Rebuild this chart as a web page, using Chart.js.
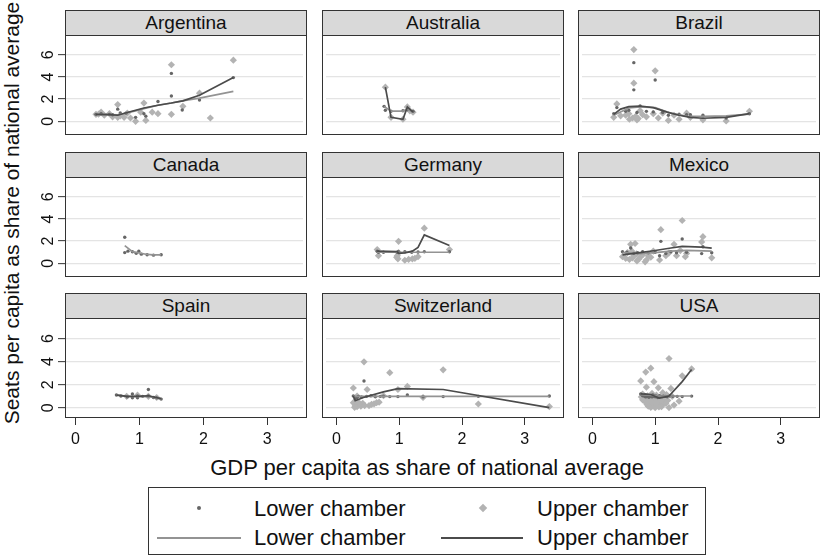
<!DOCTYPE html>
<html><head><meta charset="utf-8">
<script src="https://cdn.jsdelivr.net/npm/chart.js@4"></script>
<style>
body{margin:0;background:#fff;font-family:"Liberation Sans",Arial,sans-serif;}
#wrap{position:relative;width:821px;height:556px;overflow:hidden;background:#fff;}
.hdr{position:absolute;box-sizing:border-box;background:#d9d9d9;border:1px solid #333;text-align:center;font-size:19px;line-height:24px;color:#111;}
.frame{position:absolute;box-sizing:border-box;border:1px solid #333;pointer-events:none;}
canvas{position:absolute;}
.txt{position:absolute;white-space:nowrap;color:#111;}
</style></head><body><div id="wrap"></div>
<script>
// ---------- data ----------
const countries = ['Argentina','Australia','Brazil','Canada','Germany','Mexico','Spain','Switzerland','USA'];
const xTicks = [0,1,2,3];
const yTicks = [0,2,4,6];
const xTitle = 'GDP per capita as share of national average';
const yTitle = 'Seats per capita as share of national average';
const legendLabels = ['Lower chamber','Upper chamber','Lower chamber','Upper chamber'];

const argentinaUpper = [[0.32,0.63],[0.36,0.65],[0.40,0.83],[0.45,0.55],[0.53,0.69],[0.58,0.41],[0.66,1.51],[0.66,0.36],[0.70,0.50],[0.76,0.36],[0.81,0.74],[0.86,0.30],[0.94,0.00],[1.02,0.83],[1.07,1.65],[1.10,0.08],[1.20,0.83],[1.29,0.69],[1.50,5.10],[1.50,0.63],[1.68,1.35],[1.94,2.54],[2.11,0.30],[2.47,5.51]];
const argentinaLower = [[0.32,0.63],[0.40,0.70],[0.53,0.63],[0.58,0.60],[0.66,1.10],[0.70,0.75],[0.79,0.74],[0.94,0.36],[1.07,0.69],[1.10,0.47],[1.29,1.79],[1.50,4.32],[1.50,2.29],[1.67,1.02],[1.94,1.93],[2.47,3.94]];
const argentinaLowerFit = [[0.32,0.63],[0.53,0.60],[0.66,0.58],[0.79,0.75],[0.94,0.95],[1.07,1.15],[1.29,1.45],[1.50,1.65],[1.67,1.85],[1.94,2.10],[2.47,2.70]];
const argentinaUpperFit = [[0.32,0.63],[0.53,0.60],[0.66,0.55],[0.81,0.80],[1.07,1.20],[1.29,1.45],[1.50,1.65],[1.68,1.85],[1.94,2.35],[2.47,3.95]];

const australiaUpper = [[0.78,3.08],[0.87,0.36],[1.06,0.19],[1.13,1.30],[1.17,0.95],[1.22,0.83]];
const australiaLower = [[0.76,1.35],[0.78,1.00],[0.87,0.91],[1.06,0.95],[1.13,1.05],[1.22,0.90]];
const australiaLowerFit = [[0.76,1.35],[0.87,0.92],[1.06,0.92],[1.13,1.10],[1.22,0.83]];
const australiaUpperFit = [[0.78,3.08],[0.87,0.36],[1.06,0.19],[1.13,1.30],[1.22,0.83]];

const brazilUpper = [[0.66,6.47],[0.66,3.44],[1.00,4.55],[0.39,1.57],[0.34,0.36],[0.53,0.55],[0.58,0.69],[0.59,0.19],[0.71,0.14],[0.76,0.96],[0.86,0.41],[0.97,0.69],[1.12,0.74],[1.21,0.08],[1.38,0.19],[1.50,0.74],[1.56,0.36],[1.76,0.14],[2.13,0.03],[2.50,0.91],[0.45,0.50],[0.64,0.30],[0.69,0.45],[0.73,0.25],[0.80,0.60],[1.05,0.30],[1.30,0.55]];
const brazilLower = [[0.66,5.29],[0.66,2.84],[1.00,3.72],[0.39,1.24],[0.76,1.38],[1.21,0.55],[1.76,0.55],[2.13,0.30],[2.50,0.69],[0.34,0.70],[0.53,0.90],[0.58,1.00],[0.71,0.80],[0.86,0.90],[0.97,0.85],[1.12,0.80],[1.38,0.65],[1.50,0.60],[1.56,0.60]];
const brazilLowerFit = [[0.34,0.55],[0.58,1.20],[0.76,1.30],[1.00,1.24],[1.24,0.75],[1.50,0.47],[1.76,0.45],[2.13,0.50],[2.50,0.65]];
const brazilUpperFit = [[0.34,0.63],[0.45,1.10],[0.58,1.32],[0.76,1.38],[0.97,1.24],[1.19,0.83],[1.38,0.55],[1.56,0.36],[1.76,0.28],[2.13,0.36],[2.50,0.69]];

const canadaUpper = [];
const canadaLower = [[0.77,2.35],[0.77,0.97],[0.82,1.10],[0.89,1.05],[0.95,0.90],[0.99,1.10],[1.03,0.83],[1.12,0.77],[1.22,0.74],[1.34,0.77]];
const canadaLowerFit = [[0.77,1.60],[0.89,1.05],[0.99,0.95],[1.12,0.80],[1.22,0.77],[1.34,0.77]];
const canadaUpperFit = [];

const germanyUpper = [[0.65,1.24],[0.67,0.69],[0.99,1.98],[0.97,0.69],[0.99,0.96],[0.98,0.41],[1.09,0.28],[1.21,0.41],[1.30,0.60],[1.40,3.17],[1.80,1.24],[0.96,0.55],[1.15,0.35],[1.25,0.45]];
const germanyLower = [[0.65,1.10],[0.67,1.00],[0.75,1.00],[0.97,1.00],[0.99,1.05],[1.09,1.05],[1.20,1.00],[1.30,1.02],[1.40,1.05],[1.80,1.05]];
const germanyLowerFit = [[0.65,1.00],[0.97,1.00],[1.40,1.00],[1.80,1.00]];
const germanyUpperFit = [[0.65,1.10],[0.97,1.05],[0.99,0.90],[1.09,0.95],[1.21,1.10],[1.30,1.44],[1.40,2.56],[1.80,1.60]];

const mexicoUpper = [[1.43,3.86],[1.09,3.03],[1.76,2.40],[1.74,1.93],[1.30,1.71],[0.61,1.71],[0.68,1.79],[0.48,0.60],[0.56,0.97],[0.63,1.10],[0.66,0.69],[0.71,0.22],[0.76,0.55],[0.84,0.14],[0.89,0.69],[0.97,1.10],[1.07,0.30],[1.17,0.69],[1.34,0.69],[1.48,0.60],[1.50,0.88],[1.90,0.50],[0.53,0.45],[0.59,0.35],[0.64,0.50],[0.70,0.85],[0.74,0.40],[0.80,0.75],[0.86,0.30],[0.93,0.55],[1.22,0.95],[1.40,1.15]];
const mexicoLower = [[1.09,1.98],[1.43,2.20],[0.61,1.38],[0.48,1.05],[1.76,1.50],[1.74,0.88],[1.07,0.69],[1.17,0.88],[1.34,0.96],[1.90,0.96],[0.89,0.96],[0.55,1.00],[0.66,0.90],[0.72,0.95],[0.80,1.05],[1.00,1.00],[1.25,1.05],[1.50,1.00]];
const mexicoLowerFit = [[0.48,0.97],[0.76,0.88],[1.00,0.97],[1.25,1.10],[1.50,1.16],[1.90,1.10]];
const mexicoUpperFit = [[0.48,0.77],[0.76,0.97],[1.00,1.16],[1.25,1.38],[1.43,1.52],[1.74,1.47],[1.90,1.38]];

const spainUpper = [[0.80,1.00],[0.97,1.10],[1.14,1.00],[1.27,0.90]];
const spainLower = [[0.64,1.12],[0.71,1.03],[0.81,0.95],[0.89,1.20],[0.89,0.87],[0.97,1.03],[0.97,0.87],[1.05,1.00],[1.14,1.59],[1.14,1.03],[1.22,0.90],[1.27,0.87],[1.34,0.76]];
const spainLowerFit = [[0.64,1.12],[0.81,1.00],[0.97,0.98],[1.14,1.00],[1.34,0.76]];
const spainUpperFit = [[0.64,1.10],[0.81,1.00],[0.97,1.00],[1.14,1.05],[1.34,0.80]];

const switzerlandUpper = [[0.44,3.98],[0.85,3.04],[1.70,3.29],[1.13,1.86],[0.98,1.59],[0.27,1.72],[0.49,1.59],[2.26,0.34],[3.39,0.12],[0.33,1.03],[1.38,0.90],[0.27,0.45],[0.30,0.25],[0.33,0.10],[0.36,0.30],[0.39,0.15],[0.42,0.40],[0.29,0.05],[0.35,0.50],[0.52,0.20],[0.56,0.30],[0.60,0.35],[0.64,0.45],[0.68,0.50],[0.45,0.20],[0.75,1.05]];
const switzerlandLower = [[0.44,2.33],[0.27,1.03],[1.13,1.12],[1.70,0.98],[3.39,1.03],[0.85,0.98],[0.98,0.98],[0.30,0.80],[0.35,1.00],[0.40,0.95],[0.48,1.00],[0.55,1.05],[0.62,0.97],[0.70,1.00],[0.75,1.02],[1.38,0.95],[2.26,1.00],[0.33,0.90]];
const switzerlandLowerFit = [[0.27,1.00],[0.50,1.00],[1.00,1.00],[1.70,1.00],[3.39,1.00]];
const switzerlandUpperFit = [[0.27,1.03],[0.30,0.62],[0.43,0.90],[0.75,1.39],[0.98,1.67],[1.70,1.59],[3.39,0.02]];

const usaUpper = [[1.22,4.26],[0.93,3.43],[0.85,3.10],[1.58,3.37],[1.43,2.77],[0.77,2.33],[0.98,2.27],[0.86,1.79],[1.05,1.74],[1.25,1.68],[1.12,1.32],[0.80,1.20],[0.88,1.05],[0.95,1.25],[1.02,1.10],[1.18,1.15],[0.82,0.85],[0.90,0.70],[0.97,0.90],[1.00,0.60],[1.08,0.80],[1.15,0.55],[0.84,0.55],[0.92,0.40],[0.99,0.35],[1.05,0.45],[1.12,0.30],[1.20,0.65],[0.78,0.95],[0.87,0.30],[0.95,0.15],[1.03,0.20],[1.10,0.10],[1.38,0.58],[1.30,0.25],[1.22,0.03],[0.93,0.05],[1.00,0.02],[1.06,0.08],[0.89,0.15],[0.80,0.70],[0.97,0.75],[1.14,0.95],[1.27,1.00],[0.91,0.95],[1.02,0.85],[0.86,0.45],[0.95,0.50],[1.09,0.62],[1.17,0.40]];
const usaLower = [[0.77,1.20],[0.80,1.05],[0.83,1.00],[0.85,0.95],[0.87,1.10],[0.89,1.00],[0.90,0.92],[0.92,1.05],[0.94,1.00],[0.95,0.95],[0.97,1.08],[0.98,1.00],[1.00,0.97],[1.01,1.03],[1.03,1.00],[1.05,0.95],[1.07,1.05],[1.09,1.00],[1.11,0.98],[1.13,1.02],[1.16,1.00],[1.19,0.96],[1.23,1.03],[1.28,1.00],[1.35,1.00],[1.43,0.98],[1.58,1.02],[0.84,1.15],[0.96,1.12],[1.04,0.90]];
const usaLowerFit = [[0.77,1.15],[0.90,1.10],[1.05,1.03],[1.20,1.03],[1.58,1.03]];
const usaUpperFit = [[0.77,1.22],[0.93,1.16],[1.07,0.84],[1.22,1.03],[1.43,2.27],[1.58,3.32]];

const lowerPts = [argentinaLower,australiaLower,brazilLower,canadaLower,germanyLower,mexicoLower,spainLower,switzerlandLower,usaLower];
const upperPts = [argentinaUpper,australiaUpper,brazilUpper,canadaUpper,germanyUpper,mexicoUpper,spainUpper,switzerlandUpper,usaUpper];
const lowerFits = [argentinaLowerFit,australiaLowerFit,brazilLowerFit,canadaLowerFit,germanyLowerFit,mexicoLowerFit,spainLowerFit,switzerlandLowerFit,usaLowerFit];
const upperFits = [argentinaUpperFit,australiaUpperFit,brazilUpperFit,canadaUpperFit,germanyUpperFit,mexicoUpperFit,spainUpperFit,switzerlandUpperFit,usaUpperFit];

// ---------- styles / layout ----------
const C_LOWDOT = '#666666', C_UPDOT = '#b3b3b3', C_LOWLINE = '#939393', C_UPLINE = '#4b4b4b';
const colL = [65,322,578], rowT = [10,152,293];
const PW = 242, PH = 100, HH = 25;
const XMIN = -0.165, XMAX = 3.56, YMIN = -0.87, YMAX = 7.42;
const PADL = 40, PADB = 36;

Chart.defaults.font.family = '"Liberation Sans", Arial, sans-serif';
Chart.defaults.color = '#111';

const wrap = document.getElementById('wrap');
function el(tag, cls, css, text){
  const e = document.createElement(tag);
  if (cls) e.className = cls;
  Object.assign(e.style, css);
  if (text !== undefined) e.textContent = text;
  wrap.appendChild(e);
  return e;
}
const toXY = a => a.map(p => ({x:p[0], y:p[1]}));

countries.forEach((name, i) => {
  const r = Math.floor(i/3), c = i%3;
  const pl = colL[c], pt = rowT[r] + HH;
  const padL = c === 0 ? PADL : 0;
  const padB = r === 2 ? PADB : 0;
  const cv = document.createElement('canvas');
  cv.width = PW + padL; cv.height = PH + padB;
  cv.style.left = (pl - padL) + 'px'; cv.style.top = pt + 'px';
  cv.style.width = cv.width + 'px'; cv.style.height = cv.height + 'px';
  wrap.appendChild(cv);
  new Chart(cv, {
    type: 'scatter',
    data: { datasets: [
      {label:'Upper fit', data: toXY(upperFits[i]), showLine:true, borderColor:C_UPLINE, borderWidth:1.7, pointRadius:0, order:0},
      {label:'Lower fit', data: toXY(lowerFits[i]), showLine:true, borderColor:C_LOWLINE, borderWidth:1.7, pointRadius:0, order:1},
      {label:'Lower', data: toXY(lowerPts[i]), pointStyle:'circle', pointRadius:1.7, backgroundColor:C_LOWDOT, borderWidth:0, order:2},
      {label:'Upper', data: toXY(upperPts[i]), pointStyle:'rectRot', pointRadius:3.6, backgroundColor:C_UPDOT, borderWidth:0, order:3}
    ]},
    options: {
      responsive:false, animation:false, devicePixelRatio:1,
      layout:{padding:0},
      plugins:{legend:{display:false}, tooltip:{enabled:false}},
      scales:{
        x:{type:'linear', min:XMIN, max:XMAX, display: r===2,
           afterBuildTicks: s => { s.ticks = xTicks.map(v => ({value:v})); },
           afterFit: s => { s.height = padB; s.paddingLeft = 0; s.paddingRight = 0; s.paddingTop = 0; s.paddingBottom = 0; },
           grid:{drawOnChartArea:false, drawTicks:true, tickLength:7, tickColor:'#333', tickWidth:1},
           border:{display:false},
           ticks:{font:{size:16}, color:'#111', padding:5, maxRotation:0, minRotation:0, callback: v => String(v)}},
        y:{type:'linear', min:YMIN, max:YMAX, display:true,
           afterBuildTicks: s => { s.ticks = yTicks.map(v => ({value:v})); },
           afterFit: s => { s.width = padL; s.paddingTop = 0; s.paddingBottom = 0; s.paddingLeft = 0; s.paddingRight = 0; },
           grid:{color:'#e4e4e4', lineWidth:1.3, drawTicks: c===0, tickLength:7, tickColor:'#333', tickWidth:1},
           border:{display:false},
           ticks:{display: c===0, font:{size:16}, color:'#111', padding:5, minRotation:90, maxRotation:90, crossAlign:'center', callback: v => String(v)}}
      }
    }
  });
  el('div','hdr',{left:pl+'px', top:rowT[r]+'px', width:PW+'px', height:(HH+1)+'px'}, name);
  el('div','frame',{left:pl+'px', top:pt+'px', width:PW+'px', height:PH+'px'});
});

// axis titles
el('div','txt',{left:'127px', top:'455px', width:'600px', textAlign:'center', fontSize:'22px', lineHeight:'26px'}, xTitle);
el('div','txt',{left:'-208px', top:'200px', width:'440px', textAlign:'center', fontSize:'21px', lineHeight:'26px', transform:'rotate(-90deg)'}, yTitle);

// legend
el('div','',{position:'absolute', left:'148px', top:'487px', width:'558px', height:'68px', border:'1px solid #333', boxSizing:'border-box'});
el('div','',{position:'absolute', left:'197px', top:'506px', width:'4px', height:'4px', borderRadius:'50%', background:C_LOWDOT});
el('div','',{position:'absolute', left:'480px', top:'505px', width:'6px', height:'6px', transform:'rotate(45deg)', background:C_UPDOT});
el('div','',{position:'absolute', left:'157px', top:'537px', width:'84px', height:'2px', background:C_LOWLINE});
el('div','',{position:'absolute', left:'441px', top:'537px', width:'82px', height:'2px', background:C_UPLINE});
el('div','txt',{left:'254px', top:'496px', fontSize:'22px', lineHeight:'26px'}, legendLabels[0]);
el('div','txt',{left:'537px', top:'496px', fontSize:'22px', lineHeight:'26px'}, legendLabels[1]);
el('div','txt',{left:'254px', top:'525px', fontSize:'22px', lineHeight:'26px'}, legendLabels[2]);
el('div','txt',{left:'537px', top:'525px', fontSize:'22px', lineHeight:'26px'}, legendLabels[3]);
</script></body></html>
